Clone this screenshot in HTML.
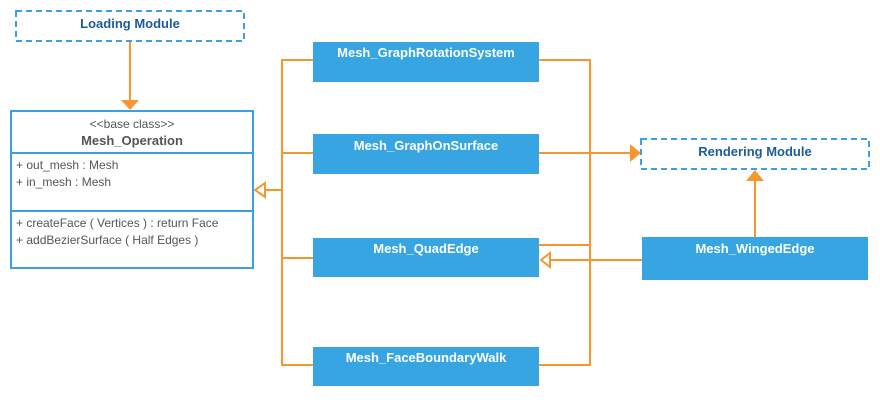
<!DOCTYPE html>
<html><head><style>
body{margin:0;background:#fff;}
.t{font-family:"Liberation Sans",sans-serif;}
</style></head><body>
<svg width="880" height="400" xmlns="http://www.w3.org/2000/svg" class="t">
<g stroke="#f7962e" stroke-width="2" fill="none">
<line x1="130" y1="42" x2="130" y2="101"/>
<polyline points="313,60 282,60 282,365 313,365"/>
<line x1="282" y1="153" x2="313" y2="153"/>
<line x1="282" y1="258" x2="313" y2="258"/>
<line x1="282" y1="190" x2="265" y2="190"/>
<polyline points="539,60 590,60 590,365 539,365"/>
<line x1="539" y1="153" x2="630" y2="153"/>
<line x1="539" y1="245" x2="590" y2="245"/>
<line x1="642" y1="260" x2="550" y2="260"/>
<line x1="755" y1="237" x2="755" y2="181"/>
</g>
<g fill="#f7962e">
<polygon points="121,100 139,100 130,110"/>
<polygon points="630,144 630,162 641,153"/>
<polygon points="746,181 764,181 755,170"/>
</g>
<g fill="#fff" stroke="#f7962e" stroke-width="2">
<polygon points="265,183 265,197 255,190"/>
<polygon points="550,253 550,267 541,260"/>
</g>
<rect x="16" y="11" width="228" height="30" fill="#fff" stroke="#3aa0e0" stroke-width="2" stroke-dasharray="6,4"/>
<text x="130" y="28" text-anchor="middle" font-size="13" font-weight="bold" fill="#1d5d93">Loading Module</text>
<rect x="641" y="139" width="228" height="30" fill="#fff" stroke="#3aa0e0" stroke-width="2" stroke-dasharray="6,4"/>
<text x="755" y="156" text-anchor="middle" font-size="13" font-weight="bold" fill="#1d5d93">Rendering Module</text>
<rect x="11" y="111" width="242" height="157" fill="#fff" stroke="#3aa0e0" stroke-width="2"/>
<line x1="11" y1="153" x2="253" y2="153" stroke="#3aa0e0" stroke-width="2"/>
<line x1="11" y1="211" x2="253" y2="211" stroke="#3aa0e0" stroke-width="2"/>
<text x="132" y="128" text-anchor="middle" font-size="12" fill="#555">&lt;&lt;base class&gt;&gt;</text>
<text x="132" y="145" text-anchor="middle" font-size="13" font-weight="bold" fill="#555">Mesh_Operation</text>
<text x="16" y="169" font-size="12" fill="#555">+ out_mesh : Mesh</text>
<text x="16" y="186" font-size="12" fill="#555">+ in_mesh : Mesh</text>
<text x="16" y="227" font-size="12" fill="#555">+ createFace ( Vertices ) : return Face</text>
<text x="16" y="244" font-size="12" fill="#555">+ addBezierSurface ( Half Edges )</text>
<g fill="#36a5e2">
<rect x="313" y="42" width="226" height="40"/>
<rect x="313" y="134" width="226" height="40"/>
<rect x="313" y="238" width="226" height="39"/>
<rect x="313" y="347" width="226" height="39"/>
<rect x="642" y="237" width="226" height="43"/>
</g>
<g fill="#fff" font-size="13" font-weight="bold" text-anchor="middle">
<text x="426" y="57">Mesh_GraphRotationSystem</text>
<text x="426" y="150">Mesh_GraphOnSurface</text>
<text x="426" y="253">Mesh_QuadEdge</text>
<text x="426" y="362">Mesh_FaceBoundaryWalk</text>
<text x="755" y="253">Mesh_WingedEdge</text>
</g>
</svg>
</body></html>
